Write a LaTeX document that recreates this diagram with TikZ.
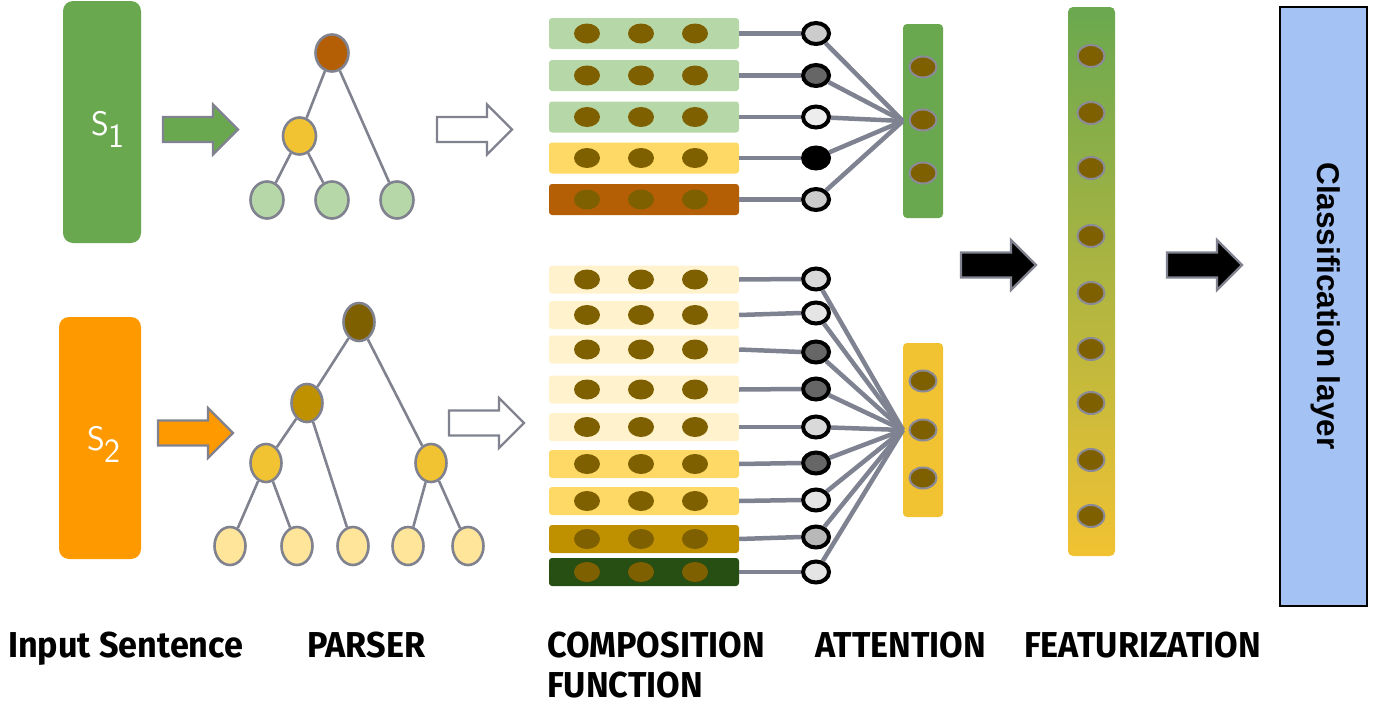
\documentclass[tikz,border=0pt]{standalone}
\usepackage{fontspec}
\usetikzlibrary{shapes.geometric}
\newfontfamily\labfont[FakeStretch=0.95]{Fira Sans}
\newfontfamily\clsfont{Liberation Sans}
\definecolor{sgreen}{HTML}{6AA84F}
\definecolor{sorange}{HTML}{FF9900}
\definecolor{edgegray}{HTML}{80838F}
\definecolor{conngray}{HTML}{7E8291}
\definecolor{rootA}{HTML}{B45F06}
\definecolor{midyel}{HTML}{F1C232}
\definecolor{leafgreen}{HTML}{B6D7A8}
\definecolor{rootB}{HTML}{7F6000}
\definecolor{midB}{HTML}{BF9000}
\definecolor{leafyel}{HTML}{FFE599}
\definecolor{dotbrown}{HTML}{7F6000}
\definecolor{cream}{HTML}{FFF2CC}
\definecolor{lyellow}{HTML}{FFD966}
\definecolor{dkgreen}{HTML}{274E13}
\definecolor{clsblue}{HTML}{A4C2F4}
\definecolor{dotedge}{HTML}{8A8A98}
\begin{document}
\begin{tikzpicture}[x=1pt,y=-1pt,
  blockarr/.pic={\path[pic actions] (0,-12.5) -- (50,-12.5) -- (50,-25) -- (75,0) -- (50,25) -- (50,12.5) -- (0,12.5) -- cycle;},
  sbox/.style={rectangle, rounded corners=10, inner sep=0, minimum width=78, minimum height=242},
  stext/.style={anchor=base west, inner sep=0, text=white, font=\sffamily\fontsize{34}{36}\selectfont},
  tnode/.style={ellipse, draw=edgegray, line width=2.6pt, minimum width=33, minimum height=37, inner sep=0},
  tedge/.style={draw=edgegray, line width=2.6pt},
  cbar/.style={rectangle, rounded corners=3, minimum width=190, inner sep=0},
  cdot/.style={ellipse, fill=dotbrown, minimum width=26, minimum height=20, inner sep=0},
  attn/.style={ellipse, draw=black, line width=4pt, minimum width=26, minimum height=21, inner sep=0},
  conn/.style={draw=conngray, line width=4.5pt},
  vec/.style={rectangle, rounded corners=4, minimum width=40, inner sep=0},
  vdot/.style={ellipse, fill=dotbrown, draw=dotedge, line width=2pt, minimum width=27, minimum height=21, inner sep=0},
  lab/.style={anchor=base west, inner sep=0, font=\labfont\bfseries\fontsize{36}{40}\selectfont},
  arrline/.style={draw=edgegray, line width=2.2pt},
]
\useasboundingbox (0,0) rectangle (1382,704);

% input sentences
\node[sbox, fill=sgreen] (s1) at (102,122) {};
\node[stext] (s1t) at (91,135) {S\raisebox{-12pt}{1}};
\node[sbox, fill=sorange, minimum width=82] (s2) at (100,438) {};
\node[stext] (s2t) at (87,450) {S\raisebox{-12pt}{2}};

% block arrows
\pic[fill=sgreen, arrline] at (163,129.5) {blockarr};
\pic[fill=sorange, arrline] at (158,433) {blockarr};
\pic[fill=white, arrline] at (437,129.5) {blockarr};
\pic[fill=white, arrline] at (449,423) {blockarr};
\pic[fill=black, arrline] at (961,265) {blockarr};
\pic[fill=black, arrline] at (1167,265) {blockarr};

% tree 1
\node[tnode, fill=rootA] (r1) at (332,53) {};
\node[tnode, fill=midyel] (m1) at (299.5,136) {};
\node[tnode, fill=leafgreen] (l11) at (267,200) {};
\node[tnode, fill=leafgreen] (l12) at (332,200) {};
\node[tnode, fill=leafgreen] (l13) at (397,200) {};
\draw[tedge] (r1) -- (m1);
\draw[tedge] (r1) -- (l13);
\draw[tedge] (m1) -- (l11);
\draw[tedge] (m1) -- (l12);

% tree 2
\node[tnode, fill=rootB, minimum width=31, minimum height=38] (r2) at (359,322) {};
\node[tnode, fill=midB, minimum width=31, minimum height=38] (m2) at (307,403) {};
\node[tnode, fill=midyel, minimum width=31, minimum height=38] (a2) at (266,463) {};
\node[tnode, fill=midyel, minimum width=31, minimum height=38] (b2) at (431,463) {};
\foreach \i/\x in {1/230,2/297,3/353,4/408,5/468}
  \node[tnode, fill=leafyel, minimum width=31, minimum height=38] (q\i) at (\x,546) {};
\draw[tedge] (r2) -- (m2);
\draw[tedge] (r2) -- (b2);
\draw[tedge] (m2) -- (a2);
\draw[tedge] (m2) -- (q3);
\draw[tedge] (a2) -- (q1);
\draw[tedge] (a2) -- (q2);
\draw[tedge] (b2) -- (q4);
\draw[tedge] (b2) -- (q5);

% attention vectors
\node[vec, fill=sgreen, minimum height=194] (vA) at (923,121) {};
\foreach \i/\y in {1/67,2/120,3/173} \node[vdot] (vA\i) at (923,\y) {};
\node[vec, fill=midyel, minimum height=174] (vB) at (923,430) {};
\foreach \i/\y in {1/381,2/430,3/478} \node[vdot] (vB\i) at (923,\y) {};
\coordinate (cA) at (903,121);
\coordinate (cB) at (903,430);

% composition bars, top
\foreach \i/\y/\c/\a in {1/33.5/leafgreen/black!20, 2/75.5/leafgreen/black!60, 3/117/leafgreen/black!7, 4/158/lyellow/black, 5/199.5/rootA/black!20}{
  \node[cbar, fill=\c, minimum height=31] (t\i) at (644,\y) {};
  \node[cdot] (t\i-1) at (587,\y) {};
  \node[cdot] (t\i-2) at (641,\y) {};
  \node[cdot] (t\i-3) at (695,\y) {};
  \node[attn, fill=\a] (ta\i) at (816,\y) {};
  \draw[conn] (t\i.east) -- (ta\i.west);
  \draw[conn] (ta\i) -- (cA);
}
% composition bars, bottom
\foreach \i/\y/\cy/\c/\a in {1/279.5/279/cream/black!15, 2/315/313/cream/black!10, 3/349.5/352/cream/black!60, 4/389.5/389/cream/black!60, 5/427/427/cream/black!15, 6/464/463/lyellow/black!60, 7/501/500/lyellow/black!10, 8/539/537/midB/black!28, 9/572/572/dkgreen/black!10}{
  \node[cbar, fill=\c, minimum height=28] (b\i) at (644,\y) {};
  \node[cdot] (b\i-1) at (587,\y) {};
  \node[cdot] (b\i-2) at (641,\y) {};
  \node[cdot] (b\i-3) at (695,\y) {};
  \node[attn, fill=\a] (ba\i) at (816,\cy) {};
  \draw[conn] (b\i.east) -- (ba\i.west);
  \draw[conn] (ba\i) -- (cB);
}

% featurization
\node[rectangle, rounded corners=5, inner sep=0, minimum width=47, minimum height=549, top color=sgreen, bottom color=midyel] (feat) at (1091.5,281.5) {};
\foreach \i/\y in {1/56,2/113,3/168,4/236,5/293,6/349,7/403,8/460,9/516}
  \node[vdot, minimum height=22] (f\i) at (1091,\y) {};

% classification
\node[rectangle, draw=black, line width=2.5pt, fill=clsblue, minimum width=87, minimum height=599, inner sep=0] (cls) at (1323.5,306.5) {};
\node[rotate=-90, inner sep=0, font=\clsfont\bfseries\fontsize{31.5}{34}\selectfont] (clst) at (1326,306) {Classification layer};

% labels
\node[lab] (lin) at (8,657) {Input Sentence};
\node[lab] (lpa) at (307,657) {PARSER};
\node[lab] (lco) at (547,657) {COMPOSITION};
\node[lab] (lfu) at (547,697) {FUNCTION};
\node[lab] (lat) at (815,657) {ATTENTION};
\node[lab] (lfe) at (1024,657) {FEATURIZATION};
\end{tikzpicture}
\end{document}
